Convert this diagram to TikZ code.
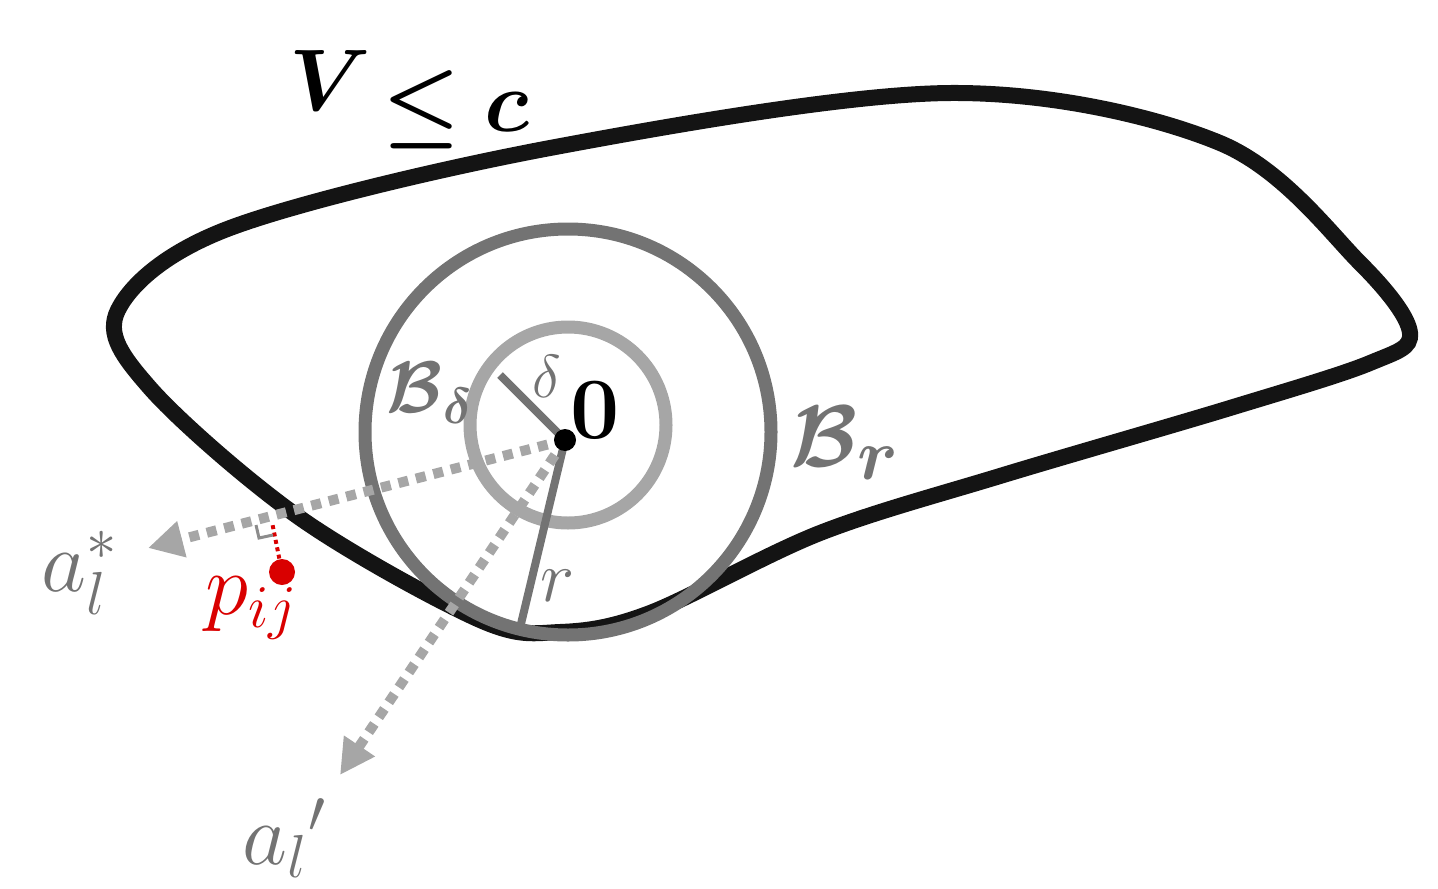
\documentclass[tikz,border=0pt]{standalone}
\usepackage{amsmath}
\usepackage{amssymb}
\usepackage{bm}
\usetikzlibrary{arrows.meta}
\usetikzlibrary{calc}
\usetikzlibrary{positioning}
\tikzset{
    level set/.style={
        line width=1.6mm,
        black!92,
    },
    ball r/.style={
        line width=1.3mm,
        black!55,
    },
    ball delta/.style={
        line width=1.3mm,
        black!35,
    },
    radius line/.style={
        line width=0.8mm,
        black!55,
    },
    dir arrow/.style={
        line width=1.0mm,
        black!35,
        dash pattern=on 1mm off 0.8mm,
        -{Triangle[length=3.5mm,width=3.5mm]},
    },
    gray label/.style={
        text=black!55,
        font=\fontsize{24}{28}\selectfont,
    },
}
\begin{document}
\begin{tikzpicture}[x=1cm,y=1cm]
    \useasboundingbox (0,0) rectangle (14.38,8.88);

    % level set
    \draw[level set] plot[smooth cycle, tension=0.55] coordinates {
        (1.18,5.78) (2.3,6.6) (5.5,7.4) (9.5,7.95) (12.2,7.45)
        (13.6,6.25) (14.1,5.55) (13.7,5.25) (12.3,4.8) (10.0,4.12) (8.2,3.55) (6.5,2.75)
        (5.6,2.56) (4.8,2.68) (3.0,3.7) (1.5,5.0)
    };
    \node[font=\fontsize{36}{40}\selectfont, inner sep=0] (vlab) at (3.3,8.08) {$\bm{V}$};
    \node[font=\fontsize{24}{28}\selectfont, inner sep=0, anchor=west] (vsub) at ($(vlab.east)+(0.1,-0.3)$) {$\bm{\leq c}$};

    % balls
    \coordinate (origin) at (5.65,4.48);
    \draw[ball r] (5.68,4.56) circle (2.03);
    \draw[ball delta] (5.68,4.63) circle (0.98);

    % radii
    \coordinate (rend) at (5.20,2.60);
    \coordinate (dend) at (5.00,5.13);
    \draw[radius line] (origin) -- (rend);
    \draw[radius line] (origin) -- (dend);

    % directions
    \coordinate (astar) at (1.48,3.40);
    \coordinate (aprime) at (3.40,1.13);
    \draw[dir arrow] (origin) -- (astar);
    \draw[dir arrow] (origin) -- (aprime);

    % point and projection
    \node[circle, fill=red!85!black, inner sep=0, minimum size=2.6mm] (pij) at (2.82,3.16) {};
    \coordinate (foot) at (2.72,3.66);
    \draw[red!85!black, densely dotted, line width=0.4mm] (pij) -- (foot);
    \draw[black!45, line width=0.3mm] ($(foot)+(-0.16,-0.03)$) -- ++(0.03,-0.13) -- ++(0.14,0.03);

    \node[circle, fill=black, inner sep=0, minimum size=2.2mm] (zero) at (origin) {};

    % labels
    \node[font=\fontsize{32}{36}\selectfont] (zlab) at (5.95,4.78) {$\mathbf{0}$};
    \node[gray label, font=\fontsize{28}{32}\selectfont] (brlab) at (8.45,4.45) {$\bm{\mathcal{B}_r}$};
    \node[gray label, font=\fontsize{20}{24}\selectfont] (bdlab) at (4.30,4.95) {$\bm{\mathcal{B}_\delta}$};
    \node[gray label, font=\fontsize{18}{22}\selectfont] (dlab) at (5.47,5.12) {$\delta$};
    \node[gray label, font=\fontsize{20}{24}\selectfont] (rlab) at (5.58,3.02) {$r$};
    \node[gray label] (aslab) at (0.80,3.15) {$a_l^*$};
    \node[gray label] (aplab) at (2.85,0.50) {$a_l{}'$};
    \node[text=red!85!black, font=\fontsize{26}{30}\selectfont] (plab) at (2.52,2.80) {$p_{ij}$};
\end{tikzpicture}
\end{document}
